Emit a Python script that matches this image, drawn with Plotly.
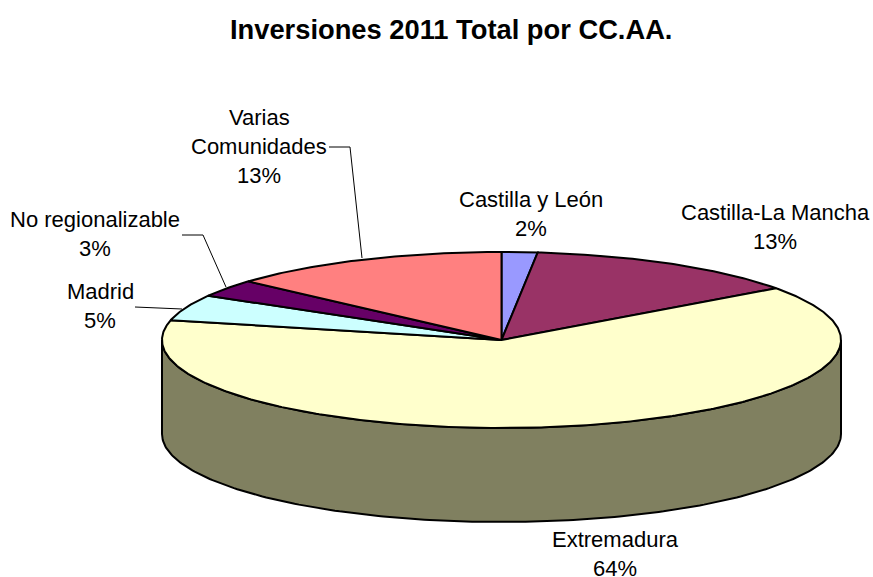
import numpy as np
import plotly.graph_objects as go

categories = ["Castilla y León", "Castilla-La Mancha", "Extremadura", "Madrid", "No regionalizable", "Varias Comunidades"]
values = [1.7, 13.3, 63.6, 4.8, 3.2, 13.4]
colors = ["#9999FF", "#993366", "#FFFFCC", "#CCFFFF", "#660066", "#FF8080"]
side_color = "#808060"
title = "Inversiones 2011 Total por CC.AA."

# label lines and layout, in page pixels
label_lines = [["Castilla y León"], ["Castilla-La Mancha"], ["Extremadura"], ["Madrid"], ["No regionalizable"], ["Varias", "Comunidades"]]
label_centers = [(531, 199), (775, 212), (615, 539), (100, 291), (95, 219), (259, 117)]
leaders = [([329, 350, 362], [147, 147, 258]), ([182, 203, 226], [235, 235, 287]), ([135, 182], [307, 309])]

W, H = 873, 577
cx, cy, rx, ry, depth = 501.5, 340, 339.5, 88, 94
LINE_H = 29

def rim(t):
    return cx + rx * np.sin(t), cy - ry * np.cos(t)

fig = go.Figure()

# side wall: front half of the rim
t = np.linspace(np.pi / 2, 3 * np.pi / 2, 200)
xs, ys = rim(t)
fig.add_trace(go.Scatter(
    x=np.concatenate([xs, xs[::-1], xs[:1]]),
    y=np.concatenate([ys, ys[::-1] + depth, ys[:1]]),
    mode="lines", fill="toself", fillcolor=side_color,
    line=dict(color="black", width=2), hoverinfo="skip", showlegend=False))

# top face wedges
total = sum(values)
start = 0.0
for name, v, c in zip(categories, values, colors):
    end = start + v / total * 2 * np.pi
    t = np.linspace(start, end, max(int(v * 6), 8))
    xs, ys = rim(t)
    fig.add_trace(go.Scatter(
        x=np.concatenate([[cx], xs, [cx]]),
        y=np.concatenate([[cy], ys, [cy]]),
        mode="lines", fill="toself", fillcolor=c, name=name,
        line=dict(color="black", width=2), hoverinfo="skip", showlegend=False))
    start = end

# leader lines
for lx, ly in leaders:
    fig.add_trace(go.Scatter(x=lx, y=ly, mode="lines", line=dict(color="black", width=1),
                             hoverinfo="skip", showlegend=False))

# labels
font = dict(family="Liberation Sans, Arial, sans-serif", size=22, color="black")
for lines, v, (lx, ly) in zip(label_lines, values, label_centers):
    for i, s in enumerate(lines + [f"{round(v / total * 100)}%"]):
        fig.add_annotation(x=lx, y=ly + i * LINE_H, text=s, showarrow=False,
                           xanchor="center", yanchor="middle", font=font)

fig.add_annotation(x=450.5, y=29, text=f"<b>{title}</b>", showarrow=False, xanchor="center", yanchor="middle",
                   font=dict(family="Liberation Sans, Arial, sans-serif", size=27.3, color="black"))

fig.update_layout(width=W, height=H, margin=dict(l=0, r=0, t=0, b=0),
                  paper_bgcolor="white", plot_bgcolor="white", showlegend=False,
                  xaxis=dict(range=[0, W], visible=False, fixedrange=True),
                  yaxis=dict(range=[H, 0], visible=False, fixedrange=True))
fig.write_html("out.html", config=dict(displayModeBar=False),
               post_script="document.body.style.margin='0';document.documentElement.style.overflow='hidden';")
